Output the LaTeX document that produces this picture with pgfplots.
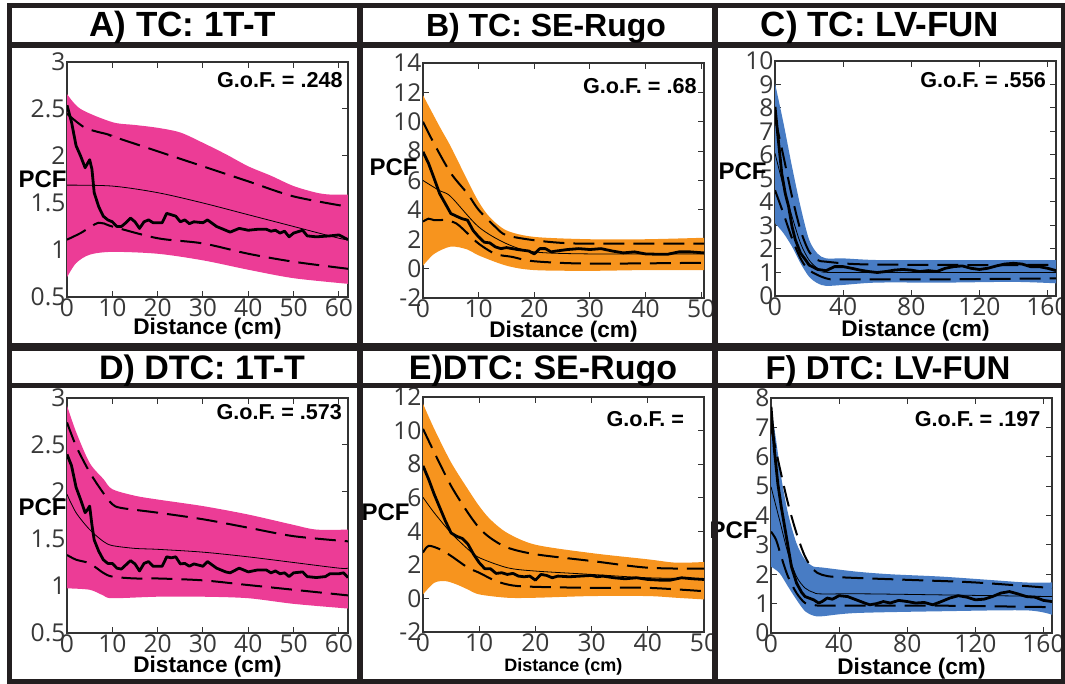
\documentclass[border=0pt]{standalone}
\usepackage{pgfplots}
\pgfplotsset{compat=1.18}
\usepgfplotslibrary{fillbetween}
\usepackage{fontspec}
\setmainfont{Liberation Sans}
\newfontfamily\tickfont{Open Sans}

\definecolor{pinkfill}{RGB}{236,60,150}
\definecolor{orangefill}{RGB}{247,148,30}
\definecolor{bluefill}{RGB}{72,124,196}
\definecolor{framec}{RGB}{35,31,32}

\pgfplotsset{
  pcf/.style={
    scale only axis, width=140.5pt, height=117.5pt,
    anchor=south west, clip mode=individual,
    axis line style={draw=black!80, line width=0.6pt},
    tick style={draw=black!80, line width=0.5pt},
    tick align=inside, major tick length=3pt,
    ticklabel style={font=\tickfont\fontsize{12.3}{12.3}\selectfont, text=black!78},
    /pgf/number format/assume math mode=true,
    xticklabel style={inner ysep=0.6pt},
    yticklabel style={inner xsep=0.6pt},
    xlabel={Distance (cm)},
    xlabel style={at={(axis description cs:0.5,0)}, anchor=base,
      font=\bfseries\fontsize{11.3}{12}\selectfont},
  },
  pcfenv/.style={draw=none, smooth},
  pcfdash/.style={black, line width=1pt, dash pattern=on 10.5pt off 4.5pt, smooth},
  pcftheo/.style={black, line width=0.4pt, smooth},
  pcfobs/.style={black, line width=1.4pt, line join=round},
}
\newcommand{\gof}{\bfseries\fontsize{10.8}{12}\selectfont}
\newcommand{\pcflab}{\bfseries\fontsize{12}{13}\selectfont}

\begin{document}
\begin{tikzpicture}

% ---------- A) TC: 1T-T
\begin{axis}[pcf, at={(33.5pt,193.5pt)},
  xmin=0, xmax=62, ymin=0.5, ymax=3,
  xtick={0,10,...,60}, ytick={0.5,1,...,3},
  xlabel style={yshift=-19pt}]
\addplot[pcfenv, name path=uA] coordinates {(0,2.66)(3,2.5)(10,2.36)(15,2.33)(20,2.30)(25,2.25)(30,2.14)(35,2.02)(40,1.89)(45,1.79)(50,1.68)(55,1.61)(58,1.59)(62,1.59)};
\addplot[pcfenv, name path=lA] coordinates {(0,0.71)(2,0.86)(5,0.95)(10,0.98)(20,0.96)(30,0.89)(40,0.79)(50,0.70)(62,0.64)};
\addplot[fill=pinkfill, draw=none] fill between[of=uA and lA];
\addplot[pcfdash] coordinates {(0,2.45)(4,2.30)(9,2.23)(10,2.21)(20,2.05)(30,1.89)(40,1.73)(50,1.57)(62,1.46)};
\addplot[pcfdash] coordinates {(0,1.11)(3,1.18)(7,1.29)(10,1.25)(20,1.125)(30,1.07)(40,0.96)(50,0.875)(62,0.80)};
\addplot[pcftheo] coordinates {(0,1.69)(10,1.68)(20,1.61)(30,1.50)(40,1.375)(50,1.25)(60,1.125)(62,1.11)};
\addplot[pcfobs] coordinates {(0,2.54)(1,2.36)(2,2.11)(3,2.0)(4,1.875)(5,1.96)(5.5,1.86)(6,1.61)(7,1.46)(8,1.36)(9,1.32)(10,1.30)(11,1.25)(12,1.25)(13,1.29)(14,1.34)(15,1.30)(16,1.23)(17,1.30)(18,1.32)(19,1.29)(20,1.29)(21,1.29)(22,1.39)(23,1.375)(24,1.36)(25,1.30)(26,1.32)(27,1.28)(28,1.30)(30,1.29)(31,1.32)(33,1.25)(35,1.21)(36,1.19)(38,1.23)(40,1.21)(42,1.22)(44,1.22)(45,1.20)(46,1.21)(47,1.18)(48,1.20)(49,1.14)(50,1.18)(52,1.21)(53,1.15)(55,1.14)(58,1.15)(60,1.16)(62,1.11)};
\node[anchor=north east, inner sep=0pt, font=\gof] at (rel axis cs:0.982,0.957) {G.o.F. = .248};
\node[anchor=east, inner sep=0pt, font=\pcflab] at (axis description cs:0,0.50) {PCF};
\end{axis}

% ---------- B) TC: SE-Rugo
\begin{axis}[pcf, at={(211.5pt,193pt)},
  xmin=0, xmax=50.5, ymin=-2, ymax=14,
  xtick={0,10,...,50}, ytick={-2,0,...,14},
  xlabel style={yshift=-20pt}]
\addplot[pcfenv, name path=uB] coordinates {(0,11.8)(3,9.66)(5,8.3)(8,6.0)(10,4.55)(12,3.5)(15,2.6)(20,2.16)(30,2.0)(40,2.0)(50.5,2.1)};
\addplot[pcfenv, name path=lB] coordinates {(0,0.2)(2,1.0)(5,1.5)(8,1.3)(10,0.9)(15,0.2)(20,-0.1)(30,-0.15)(40,-0.1)(50.5,-0.1)};
\addplot[fill=orangefill, draw=none] fill between[of=uB and lB];
\addplot[pcfdash] coordinates {(0,10.0)(2,8.5)(5,6.5)(8,5.1)(10,4.0)(13,2.84)(15,2.27)(20,1.93)(25,1.75)(30,1.7)(50.5,1.7)};
\addplot[pcfdash] coordinates {(0,3.2)(1,3.4)(2,3.3)(4,3.3)(6,3.07)(8,2.4)(10,1.7)(13,1.0)(16,0.8)(20,0.5)(30,0.34)(50.5,0.4)};
\addplot[pcftheo] coordinates {(0,6.0)(3,5.3)(5,4.9)(10,2.84)(15,1.7)(20,1.14)(30,1.0)(50.5,1.0)};
\addplot[pcfobs] coordinates {(0,7.95)(1,7.16)(2,6.14)(3,5.1)(4,4.43)(5,3.75)(6,3.57)(7,3.4)(8,3.3)(9,2.6)(10,2.16)(11,1.8)(12,1.75)(13,1.48)(14,1.36)(15,1.43)(17,1.3)(19,1.2)(20,1.0)(21,1.36)(22,1.36)(23,1.14)(24,1.2)(26,1.3)(28,1.36)(30,1.3)(32,1.36)(34,1.2)(36,1.07)(38,1.14)(40,1.0)(42,0.98)(44,0.98)(46,1.14)(48,1.14)(50.5,1.07)};
\node[anchor=north east, inner sep=0pt, font=\gof] at (rel axis cs:0.975,0.936) {G.o.F. = .68};
\node[anchor=east, inner sep=0pt, font=\pcflab] at ([xshift=-2.5pt]axis description cs:0,0.555) {PCF};
\end{axis}

% ---------- C) TC: LV-FUN
\begin{axis}[pcf, at={(387.5pt,194pt)},
  xmin=0, xmax=165, ymin=0, ymax=10,
  xtick={0,40,...,160}, ytick={0,1,...,10},
  xlabel style={yshift=-20.5pt}]
\addplot[pcfenv, name path=uC] coordinates {(0,9.05)(5,7.35)(10,5.5)(15,3.8)(20,2.4)(25,1.8)(30,1.6)(40,1.6)(60,1.53)(100,1.53)(140,1.53)(165,1.53)};
\addplot[pcfenv, name path=lC] coordinates {(0,3.1)(5,2.67)(10,2.1)(15,1.39)(20,0.82)(25,0.54)(30,0.43)(40,0.47)(60,0.57)(100,0.57)(140,0.6)(165,0.54)};
\addplot[fill=bluefill, draw=none] fill between[of=uC and lC];
\addplot[pcfdash] coordinates {(0,7.56)(5,5.93)(10,4.23)(15,2.8)(20,1.89)(25,1.53)(30,1.46)(50,1.35)(100,1.32)(165,1.32)};
\addplot[pcfdash] coordinates {(0,4.5)(5,3.5)(10,2.45)(15,1.6)(20,1.1)(30,0.75)(40,0.71)(100,0.71)(165,0.75)};
\addplot[pcftheo] coordinates {(0,6.07)(5,4.65)(10,3.38)(15,2.24)(20,1.53)(25,1.18)(30,1.04)(40,1.0)(165,1.0)};
\addplot[pcfobs] coordinates {(0,8.05)(2,6.6)(4,5.2)(6,4.37)(8,3.8)(10,2.95)(12,2.38)(15,1.82)(18,1.53)(20,1.32)(25,1.13)(30,1.08)(35,1.25)(40,1.25)(45,1.18)(50,1.1)(55,1.04)(60,1.0)(65,1.04)(70,1.1)(75,1.13)(80,1.1)(85,1.04)(90,1.08)(95,1.04)(100,1.18)(105,1.25)(110,1.28)(115,1.18)(120,1.13)(125,1.18)(130,1.28)(135,1.36)(140,1.39)(145,1.36)(150,1.25)(155,1.25)(160,1.18)(165,1.08)};
\node[anchor=north east, inner sep=0pt, font=\gof] at (rel axis cs:0.965,0.953) {G.o.F. = .556};
\node[anchor=east, inner sep=0pt, font=\pcflab] at ([xshift=-4pt]axis description cs:0,0.53) {PCF};
\end{axis}

% ---------- D) DTC: 1T-T
\begin{axis}[pcf, at={(33.5pt,25.5pt)},
  xmin=0, xmax=62, ymin=0.5, ymax=3,
  xtick={0,10,...,60}, ytick={0.5,1,...,3},
  xlabel style={yshift=-20pt}]
\addplot[pcfenv, name path=uD] coordinates {(0,2.92)(2,2.64)(5,2.31)(8,2.14)(10,2.03)(15,1.96)(20,1.92)(30,1.85)(40,1.76)(50,1.65)(55,1.6)(62,1.6)};
\addplot[pcfenv, name path=lD] coordinates {(0,0.975)(5,0.96)(8,0.90)(10,0.87)(20,0.886)(30,0.886)(40,0.87)(50,0.81)(62,0.76)};
\addplot[fill=pinkfill, draw=none] fill between[of=uD and lD];
\addplot[pcfdash] coordinates {(0,2.74)(2,2.49)(5,2.21)(8,1.99)(10,1.87)(12,1.83)(20,1.78)(30,1.71)(40,1.62)(50,1.53)(62,1.475)};
\addplot[pcfdash] coordinates {(0,1.33)(2,1.28)(5,1.24)(8,1.14)(10,1.1)(15,1.08)(20,1.08)(30,1.06)(40,1.01)(50,0.96)(62,0.90)};
\addplot[pcftheo] coordinates {(0,1.975)(2,1.78)(5,1.6)(8,1.475)(10,1.43)(15,1.40)(20,1.39)(30,1.36)(40,1.31)(50,1.25)(60,1.19)(62,1.19)};
\addplot[pcfobs] coordinates {(0,2.40)(1,2.28)(2,2.05)(3,1.92)(4,1.78)(4.5,1.81)(5,1.85)(5.5,1.65)(6,1.49)(7,1.37)(8,1.28)(9,1.24)(10,1.24)(11,1.19)(12,1.18)(13,1.225)(14,1.27)(15,1.235)(16,1.16)(17,1.24)(18,1.26)(19,1.21)(20,1.21)(21,1.21)(22,1.31)(23,1.30)(24,1.31)(25,1.235)(26,1.24)(27,1.21)(28,1.235)(30,1.21)(31,1.26)(33,1.19)(35,1.15)(36,1.14)(38,1.19)(40,1.15)(42,1.17)(44,1.17)(45,1.14)(46,1.16)(47,1.13)(48,1.14)(49,1.1)(50,1.14)(52,1.15)(53,1.1)(55,1.09)(57,1.1)(58,1.13)(60,1.13)(61,1.14)(62,1.09)};
\node[anchor=north east, inner sep=0pt, font=\gof] at (rel axis cs:0.98,0.974) {G.o.F. = .573};
\node[anchor=east, inner sep=0pt, font=\pcflab] at (axis description cs:0,0.534) {PCF};
\end{axis}

% ---------- E) DTC: SE-Rugo
\begin{axis}[pcf, at={(211.5pt,26pt)},
  xmin=0, xmax=50, ymin=-2, ymax=12,
  xtick={0,10,...,50}, ytick={-2,0,...,12},
  xlabel style={yshift=-20pt, font=\bfseries\fontsize{9}{10}\selectfont}]
\addplot[pcfenv, name path=uE] coordinates {(0,11.6)(2,10.1)(5,8.1)(8,6.5)(10,5.5)(12,4.7)(15,3.9)(20,3.2)(30,2.7)(40,2.33)(45,2.13)(50,2.17)};
\addplot[pcfenv, name path=lE] coordinates {(0,0.24)(2,0.93)(4,1.03)(6,0.83)(8,0.53)(10,0.24)(15,0.04)(20,0.04)(30,0.14)(40,0.14)(45,0.04)(50,-0.06)};
\addplot[fill=orangefill, draw=none] fill between[of=uE and lE];
\addplot[pcfdash] coordinates {(0,10.1)(2,8.7)(5,6.7)(8,5.1)(10,4.2)(12,3.6)(15,3.03)(20,2.63)(30,2.23)(40,1.83)(50,1.77)};
\addplot[pcfdash] coordinates {(0,2.73)(1,3.13)(3,2.93)(5,2.53)(8,1.83)(10,1.53)(13,1.03)(16,0.77)(20,0.69)(30,0.63)(40,0.63)(50,0.43)};
\addplot[pcftheo] coordinates {(0,6.02)(2,5.1)(5,3.9)(8,2.93)(10,2.43)(15,1.83)(20,1.63)(30,1.43)(40,1.23)(50,1.17)};
\addplot[pcfobs] coordinates {(0,7.9)(1,7.1)(2,6.2)(3,5.4)(4,4.6)(5,3.9)(6,3.7)(7,3.57)(8,3.23)(9,2.63)(10,2.13)(11,1.77)(12,1.77)(13,1.49)(14,1.53)(15,1.43)(16,1.49)(17,1.33)(18,1.29)(19,1.33)(20,1.09)(21,1.43)(22,1.37)(23,1.23)(24,1.33)(26,1.29)(28,1.33)(30,1.37)(31,1.29)(32,1.33)(34,1.23)(36,1.17)(38,1.23)(40,1.13)(42,1.09)(44,1.09)(46,1.23)(48,1.17)(50,1.13)};
\node[anchor=north east, inner sep=0pt, font=\gof] at (rel axis cs:0.93,0.94) {G.o.F. =};
\node[anchor=east, inner sep=0pt, font=\pcflab] at ([xshift=-6.5pt]axis description cs:0,0.51) {PCF};
\end{axis}

% ---------- F) DTC: LV-FUN
\begin{axis}[pcf, at={(385.5pt,25.5pt)},
  xmin=0, xmax=165, ymin=0, ymax=8,
  xtick={0,40,...,160}, ytick={0,1,...,8},
  xlabel style={yshift=-21pt}]
\addplot[pcfenv, name path=uF] coordinates {(0,7.7)(3,6.56)(6,5.3)(10,4.07)(15,3.05)(20,2.49)(25,2.26)(30,2.23)(50,2.09)(70,2.0)(100,1.92)(130,1.8)(150,1.72)(165,1.72)};
\addplot[pcfenv, name path=lF] coordinates {(0,2.26)(5,2.04)(10,1.58)(15,1.13)(20,0.74)(25,0.59)(30,0.57)(50,0.68)(100,0.74)(150,0.77)(165,0.62)};
\addplot[fill=bluefill, draw=none] fill between[of=uF and lF];
\addplot[pcfdash] coordinates {(0,7.0)(5,5.66)(10,4.41)(15,3.39)(20,2.6)(25,2.15)(30,1.98)(40,1.9)(80,1.81)(120,1.72)(165,1.53)};
\addplot[pcfdash] coordinates {(0,3.45)(3,3.17)(6,2.6)(10,1.92)(15,1.36)(20,1.02)(25,0.96)(30,0.93)(60,0.93)(100,0.93)(165,0.88)};
\addplot[pcftheo] coordinates {(0,4.98)(5,3.85)(10,2.71)(15,1.92)(20,1.53)(25,1.38)(30,1.33)(60,1.33)(165,1.24)};
\addplot[pcfobs] coordinates {(0,7.7)(2,6.22)(4,5.09)(6,4.3)(8,3.62)(10,2.94)(12,2.26)(15,1.7)(18,1.38)(20,1.24)(25,1.13)(28,1.02)(30,1.07)(33,1.19)(36,1.15)(40,1.27)(45,1.24)(50,1.13)(55,1.02)(58,0.96)(62,1.0)(66,1.07)(70,1.02)(75,1.11)(80,1.07)(85,1.02)(90,1.04)(95,0.96)(100,1.07)(105,1.19)(110,1.27)(115,1.22)(120,1.13)(125,1.15)(130,1.24)(135,1.36)(140,1.41)(145,1.33)(150,1.24)(155,1.22)(160,1.11)(165,1.07)};
\node[anchor=north east, inner sep=0pt, font=\gof] at (rel axis cs:0.96,0.945) {G.o.F. = .197};
\node[anchor=east, inner sep=0pt, font=\pcflab] at ([xshift=-6.5pt]axis description cs:0,0.436) {PCF};
\end{axis}

% ---------- frame and titles
\draw[framec, line width=2.5pt] (4.75pt,1pt) rectangle (531.5pt,339.25pt);
\draw[framec, line width=3pt] (4.75pt,319.5pt) -- (531.5pt,319.5pt);
\draw[framec, line width=4pt] (4.75pt,168.5pt) -- (531.5pt,168.5pt);
\draw[framec, line width=2.5pt] (4.75pt,149.25pt) -- (531.5pt,149.25pt);
\draw[framec, line width=3pt] (180pt,1pt) -- (180pt,339.25pt);
\draw[framec, line width=3pt] (357.25pt,1pt) -- (357.25pt,339.25pt);

\begin{scope}[every node/.style={anchor=base, inner sep=0pt}]
\node[font=\bfseries\fontsize{17.5}{18}\selectfont] at (91.5pt,323.6pt) {A) TC: 1T-T};
\node[font=\bfseries\fontsize{16}{18}\selectfont] at (273pt,323.6pt) {B) TC: SE-Rugo};
\node[font=\bfseries\fontsize{17.5}{18}\selectfont] at (440pt,323.6pt) {C) TC: LV-FUN};
\node[font=\bfseries\fontsize{17}{18}\selectfont] at (101pt,152.25pt) {D) DTC: 1T-T};
\node[font=\bfseries\fontsize{17}{18}\selectfont] at (271.5pt,152.25pt) {E)DTC: SE-Rugo};
\node[font=\bfseries\fontsize{16.5}{18}\selectfont] at (444pt,152.25pt) {F) DTC: LV-FUN};
\end{scope}

\pgfresetboundingbox
\useasboundingbox (0,0) rectangle (532.5pt,342pt);
\end{tikzpicture}
\end{document}
